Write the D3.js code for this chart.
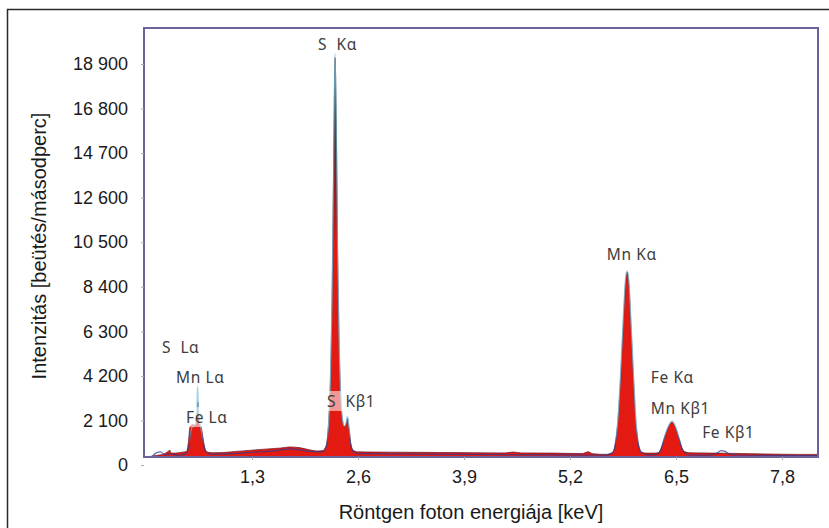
<!DOCTYPE html>
<html>
<head>
<meta charset="utf-8">
<script src="https://cdn.jsdelivr.net/npm/d3@7"></script>
<style>
  html, body { margin: 0; padding: 0; background: #fff; }
  svg { display: block; }
</style>
</head>
<body>
<svg id="chart" width="829" height="528"></svg>
<script>
// ---------- DATA ----------
// red spectrum: [energy keV, counts/s]
const redSpectrum = [
  [0.00,380],[0.08,420],[0.16,470],[0.22,520],[0.27,640],[0.29,700],[0.31,560],[0.36,560],[0.44,600],[0.50,650],
  [0.52,1100],[0.54,1800],[0.57,1900],[0.60,1880],[0.625,2000],[0.637,2970],[0.65,1950],[0.67,1850],[0.69,1500],[0.71,1000],
  [0.73,700],[0.76,600],[0.82,580],[0.95,590],[1.10,640],[1.30,700],[1.50,760],[1.65,800],[1.77,850],[1.88,820],
  [2.00,720],[2.10,660],[2.17,680],[2.21,900],[2.24,2100],[2.26,3900],[2.28,7600],[2.30,13800],[2.318,19200],[2.335,15200],
  [2.35,9800],[2.37,5400],[2.39,3000],[2.41,2100],[2.43,1800],[2.45,1900],[2.47,2215],[2.49,1700],[2.51,1000],[2.54,700],
  [2.60,620],[2.80,610],[3.20,600],[3.60,590],[4.00,580],[4.40,570],[4.50,610],[4.60,570],[5.00,560],[5.35,540],
  [5.42,620],[5.48,530],[5.65,500],[5.72,600],[5.76,1100],[5.79,2300],[5.82,4200],[5.85,6500],[5.88,8600],[5.90,9096],
  [5.92,8600],[5.95,6300],[5.98,3900],[6.01,1900],[6.04,900],[6.08,600],[6.14,560],[6.22,560],[6.28,580],[6.32,800],
  [6.36,1300],[6.40,1750],[6.45,2027],[6.49,1800],[6.53,1300],[6.57,800],[6.61,620],[6.66,580],[6.80,570],[6.95,560],
  [7.10,555],[7.30,540],[7.60,520],[8.00,500],[8.30,500]
];
// blue spectrum: [energy keV, counts/s]
const blueSpectrum = [
  [0.00,300],[0.06,360],[0.12,560],[0.18,620],[0.23,480],[0.30,520],[0.40,460],[0.50,560],[0.53,1000],[0.56,1750],
  [0.60,1900],[0.62,2300],[0.632,3770],[0.645,2400],[0.67,1800],[0.70,1100],[0.73,650],[0.80,500],[1.00,520],[1.30,600],
  [1.60,680],[1.77,760],[2.00,640],[2.15,620],[2.21,900],[2.24,2100],[2.26,3900],[2.28,7600],[2.30,13900],[2.318,19418],
  [2.335,15300],[2.35,9900],[2.37,5400],[2.39,3000],[2.41,2150],[2.43,1850],[2.45,1950],[2.47,2300],[2.49,1750],[2.51,1000],
  [2.54,650],[2.60,540],[3.20,520],[4.00,500],[5.00,480],[5.60,460],[5.72,560],[5.76,1150],[5.79,2400],[5.82,4400],
  [5.85,6800],[5.88,8800],[5.90,9150],[5.92,8700],[5.95,6500],[5.98,4100],[6.01,2000],[6.04,950],[6.08,560],[6.14,480],
  [6.22,480],[6.28,540],[6.32,820],[6.36,1350],[6.40,1800],[6.45,2080],[6.49,1850],[6.53,1350],[6.57,820],[6.61,560],
  [6.66,480],[6.90,470],[7.00,560],[7.05,680],[7.10,640],[7.16,500],[7.30,460],[8.00,440],[8.30,440]
];
// peak labels: text, energy (label start), counts (label baseline)
const peakLabels   = ["S\u00A0\u00A0Kα", "S\u00A0\u00A0Lα", "Mn Lα", "Fe Lα", "S\u00A0\u00A0Kβ1", "Mn Kα", "Fe Kα", "Mn Kβ1", "Fe Kβ1"];
const peakLabelE   = [2.11, 0.196, 0.368, 0.49, 2.22, 5.65, 6.19, 6.19, 6.82];
const peakLabelC   = [19560, 5279, 3865, 1979, 2734, 9662, 3865, 2404, 1273];

const xTickValues = [1.3, 2.6, 3.9, 5.2, 6.5, 7.8];
const xTickLabels = ["1,3", "2,6", "3,9", "5,2", "6,5", "7,8"];
const yTickValues = [0, 2100, 4200, 6300, 8400, 10500, 12600, 14700, 16800, 18900];
const yTickLabels = ["0", "2 100", "4 200", "6 300", "8 400", "10 500", "12 600", "14 700", "16 800", "18 900"];

const xTitle = "Röntgen foton energiája [keV]";
const yTitle = "Intenzitás [beütés/másodperc]";

// ---------- LAYOUT ----------
const box = { left: 144, top: 28, right: 818, bottom: 457 };
const svg = d3.select("#chart");

const x = d3.scaleLinear().domain([-0.025, 8.24]).range([box.left, box.right]);
const y = d3.scaleLinear().domain([0, 18900]).range([465, 64]);

// outer frame
svg.append("rect")
  .attr("x", 7.5).attr("y", 9.5).attr("width", 900).attr("height", 600)
  .attr("fill", "none").attr("stroke", "#2a2a2a").attr("stroke-width", 1.5);

const defs = svg.append("defs");
defs.append("clipPath").attr("id", "plotclip")
  .append("rect").attr("x", box.left).attr("y", box.top)
  .attr("width", box.right - box.left).attr("height", box.bottom - box.top);

const gFill = defs.append("linearGradient").attr("id", "redfill")
  .attr("gradientUnits", "userSpaceOnUse").attr("x1", 0).attr("x2", 0).attr("y1", 50).attr("y2", 460);
[[0, "#66c9d6"], [0.03, "#3f8e9a"], [0.12, "#4a3a40"], [0.33, "#8e1c20"], [0.48, "#e01a14"], [1, "#e41a12"]]
  .forEach(([o, c]) => gFill.append("stop").attr("offset", o).attr("stop-color", c));

const gLine = defs.append("linearGradient").attr("id", "blueline")
  .attr("gradientUnits", "userSpaceOnUse").attr("x1", 0).attr("x2", 0).attr("y1", 40).attr("y2", 460);
[[0, "#5cc8dc"], [0.25, "#4f9fae"], [0.6, "#7ab8cc"], [0.92, "#7cc8e2"], [0.965, "#2c3a8e"], [1, "#2c3a8e"]]
  .forEach(([o, c]) => gLine.append("stop").attr("offset", o).attr("stop-color", c));

const plot = svg.append("g").attr("clip-path", "url(#plotclip)");

const area = d3.area().x(d => x(d[0])).y0(y(0)).y1(d => y(d[1])).curve(d3.curveMonotoneX);
const line = d3.line().x(d => x(d[0])).y(d => y(d[1])).curve(d3.curveMonotoneX);

plot.append("path").datum(redSpectrum).attr("d", area).attr("fill", "url(#redfill)");
plot.append("path").datum(redSpectrum).attr("d", line)
  .attr("fill", "none").attr("stroke", "#6e1424").attr("stroke-width", 0.9).attr("stroke-opacity", 0.8);
plot.append("path").datum(blueSpectrum).attr("d", line)
  .attr("fill", "none").attr("stroke", "url(#blueline)").attr("stroke-width", 1.2).attr("stroke-opacity", 0.75);

// peak labels with translucent background
const labelG = svg.append("g");
peakLabels.forEach((t, i) => {
  const g = labelG.append("g");
  const txt = g.append("text")
    .attr("x", x(peakLabelE[i])).attr("y", y(peakLabelC[i]))
    .attr("font-family", "'Noto Sans', 'DejaVu Sans', sans-serif")
    .attr("font-size", 15.5).attr("letter-spacing", 0.6)
    .attr("fill", "#3d3d3d").text(t);
  const bb = txt.node().getBBox();
  g.insert("rect", "text")
    .attr("x", bb.x - 1).attr("y", bb.y + 1).attr("width", bb.width + 2).attr("height", bb.height - 2)
    .attr("fill", "#fff").attr("fill-opacity", 0.55);
});

// plot box
svg.append("rect")
  .attr("x", box.left).attr("y", box.top)
  .attr("width", box.right - box.left).attr("height", box.bottom - box.top)
  .attr("fill", "none").attr("stroke", "#6a6298").attr("stroke-width", 2);

// axes
const yAxis = d3.axisLeft(y).tickValues(yTickValues)
  .tickFormat((d, i) => yTickLabels[i]).tickSize(3).tickPadding(13);
const gy = svg.append("g").attr("transform", `translate(${box.left},0)`).call(yAxis);
gy.select(".domain").remove();
gy.selectAll("line").attr("stroke", "#aaa");
gy.selectAll("text").attr("font-family", "'Liberation Sans', Arial, sans-serif")
  .attr("font-size", 18).attr("fill", "#1a1a1a");

const xAxis = d3.axisBottom(x).tickValues(xTickValues)
  .tickFormat((d, i) => xTickLabels[i]).tickSize(3).tickPadding(10);
const gx = svg.append("g").attr("transform", `translate(0,${box.bottom})`).call(xAxis);
gx.select(".domain").remove();
gx.selectAll("line").attr("stroke", "#aaa");
gx.selectAll("text").attr("font-family", "'Liberation Sans', Arial, sans-serif")
  .attr("font-size", 18).attr("fill", "#1a1a1a");

// titles
svg.append("text").attr("x", 471).attr("y", 519).attr("text-anchor", "middle")
  .attr("font-family", "'Liberation Sans', Arial, sans-serif").attr("font-size", 20)
  .attr("fill", "#1a1a1a").text(xTitle);
svg.append("text").attr("transform", "translate(46,246) rotate(-90)").attr("text-anchor", "middle")
  .attr("font-family", "'Liberation Sans', Arial, sans-serif").attr("font-size", 20)
  .attr("fill", "#1a1a1a").text(yTitle);
</script>
</body>
</html>
